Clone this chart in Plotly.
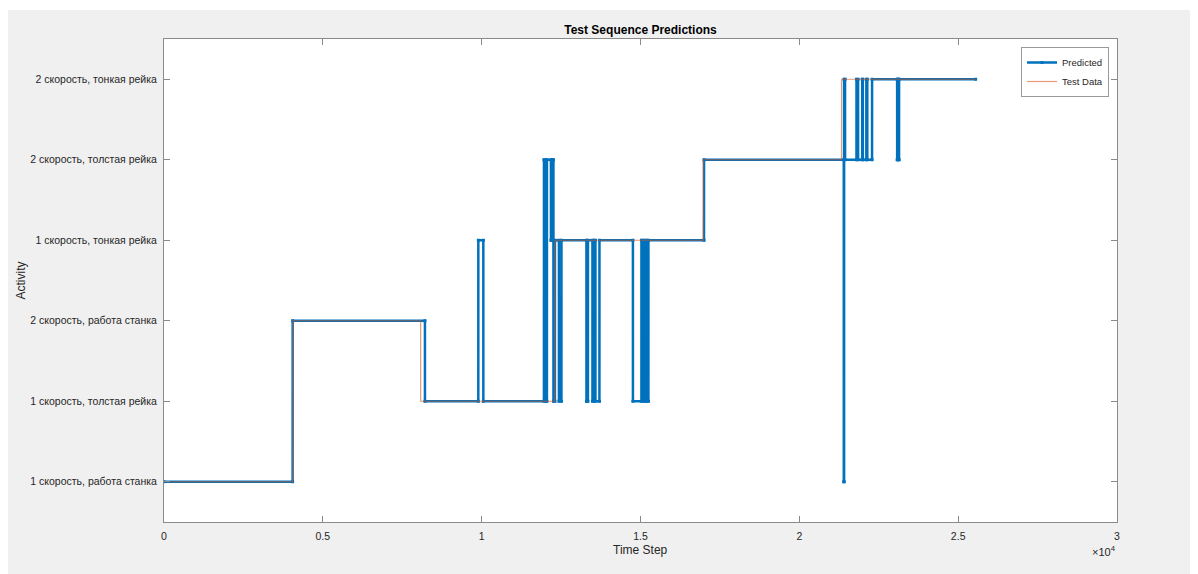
import plotly.graph_objects as go

# ---- data ----
activities = [
    "1 скорость, работа станка",
    "1 скорость, толстая рейка",
    "2 скорость, работа станка",
    "1 скорость, тонкая рейка",
    "2 скорость, толстая рейка",
    "2 скорость, тонкая рейка",
]

# Predicted: run start time steps and the activity index of each run
pred_start = [0, 4050, 8215, 9895, 10053, 11961, 12024, 12055, 12181, 12213, 12260,
              12307, 12433, 12512, 13299, 13346, 13488, 13535, 13582, 13708, 14762,
              15030, 15077, 15140, 15188, 15250, 17000, 21400, 21410, 21440, 21800,
              21850, 21980, 22000, 22110, 22140, 22290, 23080, 23090, 23130, 23140]
pred_state = [0, 2, 1, 3, 1, 4, 1, 4, 3, 4, 1,
              3, 1, 3, 1, 3, 1, 3, 1, 3, 1,
              3, 1, 3, 1, 3, 4, 0, 5, 4, 5,
              4, 5, 4, 5, 4, 5, 4, 5, 4, 5]

# Test data: run start time steps and activity index
test_start = [0, 4050, 8080, 12307, 16980, 21330]
test_state = [0, 2, 1, 3, 4, 5]

last_step = 25550

x_tickvals = [0, 5000, 10000, 15000, 20000, 25000, 30000]
x_ticktext = ["0", "0.5", "1", "1.5", "2", "2.5", "3"]


def runs_to_xy(starts, states, end):
    xs, ys = [], []
    for i, (s, st) in enumerate(zip(starts, states)):
        e = starts[i + 1] - 1 if i + 1 < len(starts) else end
        xs += [s, e]
        ys += [activities[st], activities[st]]
    return xs, ys


px, py = runs_to_xy(pred_start, pred_state, last_step)
tx, ty = runs_to_xy(test_start, test_state, last_step)

# page body has an 8px margin; work in reference pixel coords minus 8
OFF = 8
W, H = 1198 - OFF, 574 - OFF
L, R, T, B = 164 - OFF, 1117 - OFF, 39 - OFF, 522 - OFF  # axes box
PW, PH = R - L, B - T


def pxx(x):  # x in reference page pixels -> paper
    return (x - OFF - L) / PW


def pxy(y):  # y in reference page pixels -> paper
    return (B - (y - OFF)) / PH


FONT = "Liberation Sans, Arial, Helvetica, sans-serif"
TXT = "#262626"
AX = "#8a8a8a"

fig = go.Figure()
fig.add_trace(go.Scatter(
    x=px, y=py, mode="lines+markers", name="Predicted",
    line=dict(color="#0072BD", width=2.5),
    marker=dict(color="#0072BD", size=3, symbol="square"),
))
fig.add_trace(go.Scatter(
    x=tx, y=ty, mode="lines", name="Test Data",
    line=dict(color="rgba(217,83,25,0.6)", width=1.2),
))

fig.update_layout(
    width=W, height=H,
    margin=dict(l=L, r=W - R, t=T, b=H - B, pad=0),
    paper_bgcolor="white",
    plot_bgcolor="white",
    font=dict(family=FONT, size=10.5, color=TXT),
    title=dict(text="<b>Test Sequence Predictions</b>",
               x=((L + R) / 2) / W, xanchor="center",
               y=1 - (30 - OFF) / H, yanchor="middle",
               font=dict(size=12, color="#000000")),
    showlegend=True,
    legend=dict(x=pxx(1109), xanchor="right", y=pxy(47), yanchor="top",
                bgcolor="white", bordercolor="#9a9a9a", borderwidth=1,
                font=dict(size=9.5, color=TXT), tracegroupgap=0,
                itemwidth=30),
    shapes=[
        dict(type="rect", xref="paper", yref="paper", layer="below",
             x0=pxx(7), x1=pxx(1210), y0=pxy(590), y1=pxy(10),
             fillcolor="#f0f0f0", line=dict(width=0)),
        dict(type="rect", xref="paper", yref="paper", layer="below",
             x0=0, x1=1, y0=0, y1=1,
             fillcolor="white", line=dict(width=0)),
    ],
    annotations=[
        dict(text="Time Step", xref="paper", yref="paper", x=0.5, y=pxy(550),
             xanchor="center", yanchor="middle", showarrow=False,
             font=dict(size=12, color=TXT)),
        dict(text="Activity", xref="paper", yref="paper", x=pxx(20), y=0.5,
             xanchor="center", yanchor="middle", showarrow=False, textangle=-90,
             font=dict(size=12, color=TXT)),
        dict(text="×10<sup>4</sup>", xref="paper", yref="paper", x=pxx(1118), y=pxy(551),
             xanchor="right", yanchor="middle", showarrow=False,
             font=dict(size=11, color=TXT)),
    ],
)

fig.update_xaxes(
    range=[0, 30000], tickvals=x_tickvals, ticktext=x_ticktext,
    ticks="inside", ticklen=6, tickcolor=AX, tickwidth=1,
    showline=True, linecolor=AX, linewidth=1, mirror="ticks",
    showgrid=False, zeroline=False, ticklabelstandoff=4,
    tickfont=dict(size=10.5, color=TXT),
)
fig.update_yaxes(
    type="category", categoryorder="array", categoryarray=activities,
    range=[-0.5, 5.5],
    ticks="inside", ticklen=6, tickcolor=AX, tickwidth=1,
    showline=True, linecolor=AX, linewidth=1, mirror="ticks",
    showgrid=False, zeroline=False, ticklabelstandoff=4,
    tickfont=dict(size=10.5, color=TXT),
)

fig.write_html("out.html")
